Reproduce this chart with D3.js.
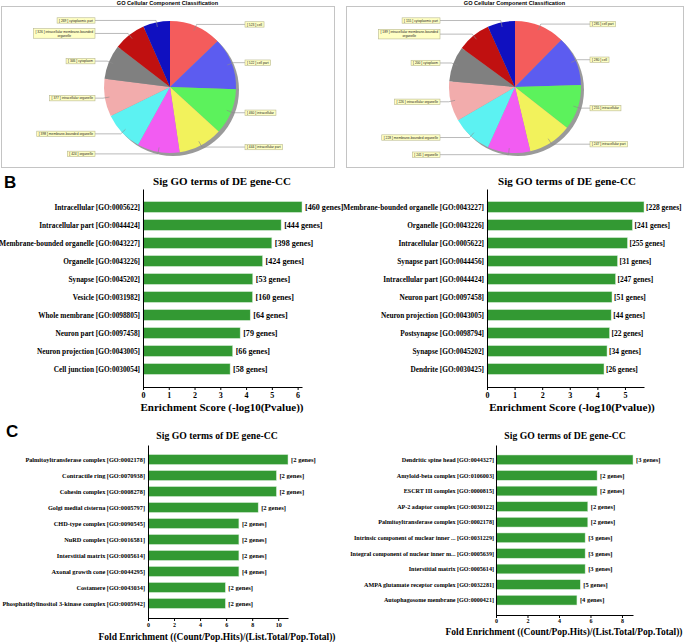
<!DOCTYPE html>
<html><head><meta charset="utf-8">
<script src="https://cdn.jsdelivr.net/npm/d3@7/dist/d3.min.js"></script>
<style>body{margin:0;background:#fff} svg{display:block}</style>
</head><body>
<svg id="chart" width="685" height="642"></svg>
<script>
// ---------- DATA ----------
const pieTitle = "GO Cellular Component Classification";
const pieLeftLabels = ["cell","cell part","intracellular","intracellular part","organelle","membrane-bounded organelle","intracellular organelle","cytoplasm","intracellular membrane-bounded organelle","cytoplasmic part"];
const pieLeftValues = [523,522,460,444,424,398,377,346,326,269];
const pieRightLabels = ["cell part","cell","intracellular","intracellular part","organelle","membrane-bounded organelle","intracellular organelle","cytoplasm","intracellular membrane-bounded organelle","cytoplasmic part"];
const pieRightValues = [285,280,255,247,241,228,226,200,189,155];
const pieColors = ["#f45c5c","#5c5cf0","#5cf25c","#f2f25c","#f25cf2","#5cf2f2","#f2acac","#808080","#c01010","#1010c0"];

const barTitle = "Sig GO terms of DE gene-CC";
const bAxisTitle = "Enrichment Score (-log10(Pvalue))";
const cAxisTitle = "Fold Enrichment ((Count/Pop.Hits)/(List.Total/Pop.Total))";

const bLeftTerms = ["Intracellular [GO:0005622]","Intracellular part [GO:0044424]","Membrane-bounded organelle [GO:0043227]","Organelle [GO:0043226]","Synapse [GO:0045202]","Vesicle [GO:0031982]","Whole membrane [GO:0098805]","Neuron part [GO:0097458]","Neuron projection [GO:0043005]","Cell junction [GO:0030054]"];
const bLeftScores = [6.17,5.36,5.0,4.64,4.26,4.25,4.16,3.77,3.48,3.38];
const bLeftGenes = [460,444,398,424,53,160,64,79,66,58];
const bLeftTicks = [0,1,2,3,4,5,6];

const bRightTerms = ["Membrane-bounded organelle [GO:0043227]","Organelle [GO:0043226]","Intracellular [GO:0005622]","Synapse part [GO:0044456]","Intracellular part [GO:0044424]","Neuron part [GO:0097458]","Neuron projection [GO:0043005]","Postsynapse [GO:0098794]","Synapse [GO:0045202]","Dendrite [GO:0030425]"];
const bRightScores = [5.69,5.27,5.09,4.73,4.66,4.53,4.50,4.44,4.35,4.24];
const bRightGenes = [228,241,255,31,247,51,44,22,34,26];
const bRightTicks = [0,1,2,3,4,5];

const cLeftTerms = ["Palmitoyltransferase complex [GO:0002178]","Contractile ring [GO:0070938]","Cohesin complex [GO:0008278]","Golgi medial cisterna [GO:0005797]","CHD-type complex [GO:0090545]","NuRD complex [GO:0016581]","Interstitial matrix [GO:0005614]","Axonal growth cone [GO:0044295]","Costamere [GO:0043034]","Phosphatidylinositol 3-kinase complex [GO:0005942]"];
const cLeftFold = [10.75,9.86,9.86,8.46,6.98,6.98,6.98,6.98,5.94,5.94];
const cLeftGenes = [2,2,2,2,2,2,2,4,2,2];
const cLeftTicks = [0,2,4,6,8,10];

const cRightTerms = ["Dendritic spine head [GO:0044327]","Amyloid-beta complex [GO:0106003]","ESCRT III complex [GO:0000815]","AP-2 adaptor complex [GO:0030122]","Palmitoyltransferase complex [GO:0002178]","Intrinsic component of nuclear inner ... [GO:0031229]","Integral component of nuclear inner m... [GO:0005639]","Interstitial matrix [GO:0005614]","AMPA glutamate receptor complex [GO:0032281]","Autophagosome membrane [GO:0000421]"];
const cRightFold = [8.70,6.42,6.42,5.83,5.83,5.66,5.66,5.66,5.35,5.14];
const cRightGenes = [3,2,2,2,2,3,3,3,5,4];
const cRightTicks = [0,2,4,6,8];

// ---------- DRAW ----------
const svg = d3.select("#chart");
const SERIF = "'Liberation Serif','Times New Roman',serif";
const SANS = "'Liberation Sans',Arial,sans-serif";
const BAR = "#339933";

[["A",4,25],["B",4,188],["C",6,437]].forEach(([t,x,y]) => {
  svg.append("text").attr("x",x).attr("y",y).text(t)
    .attr("font-family",SANS).attr("font-weight","bold").attr("font-size",17);
});

function drawPie(frameX, frameW, cx, cy, R, labels, values) {
  const g = svg.append("g");
  g.append("rect").attr("x",frameX+0.5).attr("y",6.5).attr("width",frameW).attr("height",161)
    .attr("fill","#fff").attr("stroke","#c4c4c4").attr("stroke-width",1);
  g.append("text").attr("x",frameX+frameW/2).attr("y",5).attr("text-anchor","middle")
    .attr("font-family",SANS).attr("font-weight","bold").attr("font-size",5.6).text(pieTitle);
  const pie = d3.pie().sort(null).value(d=>d)(values);
  const arc = d3.arc().innerRadius(0).outerRadius(R);
  g.append("circle").attr("cx",cx+3).attr("cy",cy+3).attr("r",R).attr("fill","#9a9a9a");
  g.selectAll("path.slice").data(pie).join("path").attr("class","slice")
    .attr("transform",`translate(${cx},${cy})`).attr("d",arc)
    .attr("fill",(d,i)=>pieColors[i]);
  pie.forEach((d,i) => {
    const a = (d.startAngle+d.endAngle)/2;
    const dx = Math.sin(a), dy = -Math.cos(a);
    const ax = cx + 0.93*R*dx, ay = cy + 0.93*R*dy;
    const ex = cx + 1.03*R*dx, ey = cy + 1.03*R*dy;
    const right = dx >= 0;
    const edge = right ? cx + 75 : cx - 75;
    g.append("polyline").attr("points",`${ax},${ay} ${ex},${ey} ${edge},${ey}`)
      .attr("fill","none").attr("stroke","#8c8c8c").attr("stroke-width",0.6);
    const full = `[ ${values[i]} ] ${labels[i]}`;
    let lines = [full];
    if (full.length > 36) {
      const k = full.lastIndexOf(" ");
      lines = [full.slice(0,k), full.slice(k+1)];
    }
    const fs = 3.3, lh = 4.2;
    const lg = g.append("g");
    const rect = lg.append("rect");
    const t = lg.append("text").attr("font-family",SANS).attr("font-size",fs).attr("fill","#222");
    let w = 0;
    lines.forEach((ln,j) => {
      const ts = t.append("tspan").attr("text-anchor","middle").attr("x",0)
        .attr("y",(j - (lines.length-1)/2)*lh + fs*0.35).text(ln);
      w = Math.max(w, ts.node().getComputedTextLength());
    });
    const bw = w + 4, bh = lines.length*lh + 1.2;
    const bx = right ? edge + bw/2 : edge - bw/2;
    lg.attr("transform",`translate(${bx},${ey})`);
    rect.attr("x",-bw/2).attr("y",-bh/2).attr("width",bw).attr("height",bh)
      .attr("fill","#ffffc4").attr("stroke","#b8b890").attr("stroke-width",0.6);
  });
}
drawPie(1, 333, 170, 87, 66, pieLeftLabels, pieLeftValues);
drawPie(346, 337, 515, 87, 66, pieRightLabels, pieRightValues);

function drawBars(o) {
  const g = svg.append("g");
  const x = d3.scaleLinear().domain([0, d3.max(o.values)]).range([o.x0, o.x1]);
  const y = d3.scaleBand().domain(o.terms).range([o.y0, o.y1])
    .paddingInner(o.pin).paddingOuter(o.pout);
  g.selectAll("rect.bar").data(o.terms).join("rect").attr("class","bar")
    .attr("x",x(0)).attr("y",d=>y(d)).attr("height",y.bandwidth())
    .attr("width",(d,i)=>x(o.values[i])-x(0)).attr("fill",BAR)
    .attr("stroke","#d6ecd6").attr("stroke-width",0.5);
  g.selectAll("text.term").data(o.terms).join("text").attr("class","term")
    .attr("x",x(0)-o.lgap).attr("y",d=>y(d)+y.bandwidth()/2).attr("dy","0.35em")
    .attr("text-anchor","end").attr("font-family",SERIF).attr("font-weight","bold")
    .attr("font-size",o.fs).text(d=>d);
  g.selectAll("text.cnt").data(o.terms).join("text").attr("class","cnt")
    .attr("x",(d,i)=>x(o.values[i])+o.cgap).attr("y",d=>y(d)+y.bandwidth()/2).attr("dy","0.35em")
    .attr("font-family",SERIF).attr("font-weight","bold").attr("font-size",o.cfs)
    .text((d,i)=>`[${o.genes[i]} genes]`);
  const ya = g.append("g").attr("transform",`translate(${x(0)},0)`)
    .call(d3.axisLeft(y).tickSize(0).tickSizeOuter(0).tickFormat(""));
  ya.select(".domain").attr("stroke","#000").attr("stroke-width",1);
  const xa = g.append("g").attr("transform",`translate(0,${o.y1})`)
    .call(d3.axisBottom(x).tickValues(o.ticks).tickSize(3).tickSizeOuter(0).tickFormat(d3.format("d")));
  xa.select(".domain").attr("stroke","#000");
  xa.selectAll(".tick line").attr("stroke","#000");
  xa.selectAll(".tick text").attr("font-family",SERIF).attr("font-weight","bold")
    .attr("font-size",o.tfs).attr("fill","#000").attr("y",o.tickY).attr("dy",0);
  g.append("text").attr("x",o.titleX).attr("y",o.titleY).attr("text-anchor","middle")
    .attr("font-family",SERIF).attr("font-weight","bold").attr("font-size",o.titleFs).text(barTitle);
  g.append("text").attr("x",o.axX).attr("y",o.axY).attr("text-anchor","middle")
    .attr("font-family",SERIF).attr("font-weight","bold").attr("font-size",o.axFs).text(o.axTitle);
}

drawBars({terms:bLeftTerms, values:bLeftScores, genes:bLeftGenes, ticks:bLeftTicks,
  x0:143, x1:302, y0:189, y1:387, pin:0.4, pout:0.7, lgap:3, fs:7.3, cfs:8.1, cgap:3, tfs:8, tickY:11,
  titleX:222, titleY:185, titleFs:11, axX:222, axY:411, axFs:11, axTitle:bAxisTitle});
drawBars({terms:bRightTerms, values:bRightScores, genes:bRightGenes, ticks:bRightTicks,
  x0:487, x1:644, y0:189, y1:387, pin:0.4, pout:0.7, lgap:3, fs:7.3, cfs:7.5, cgap:2, tfs:8, tickY:11,
  titleX:567, titleY:185, titleFs:11, axX:572, axY:411, axFs:11.2, axTitle:bAxisTitle});
drawBars({terms:cLeftTerms, values:cLeftFold, genes:cLeftGenes, ticks:cLeftTicks,
  x0:148, x1:288, y0:445, y1:618, pin:0.38, pout:0.6, lgap:3, fs:6.3, cfs:6.6, cgap:3, tfs:6, tickY:9,
  titleX:217, titleY:439, titleFs:9.7, axX:217, axY:640, axFs:9.5, axTitle:cAxisTitle});
drawBars({terms:cRightTerms, values:cRightFold, genes:cRightGenes, ticks:cRightTicks,
  x0:496, x1:633, y0:445, y1:615, pin:0.38, pout:0.64, lgap:2, fs:6.1, cfs:6.5, cgap:3, tfs:6, tickY:8,
  titleX:565, titleY:439, titleFs:9.7, axX:564, axY:635, axFs:9.5, axTitle:cAxisTitle});
</script>
</body></html>
